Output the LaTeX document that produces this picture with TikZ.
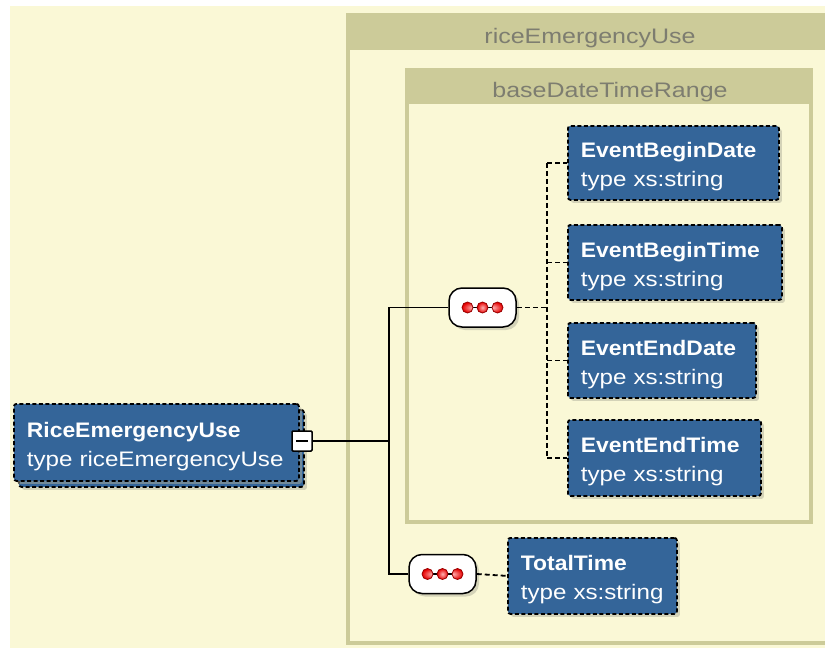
\documentclass[tikz,border=0pt]{standalone}
\usepackage{fontspec}
\setmainfont{Liberation Sans}
\newfontfamily\regf{Liberation Sans}[FakeStretch=1.15]
\newfontfamily\hdrf{Liberation Sans}[FakeStretch=1.19]
\newfontfamily\boldf{Liberation Sans}[FakeStretch=1.09]
\usetikzlibrary{shadows}
\definecolor{bgc}{RGB}{250,248,214}
\definecolor{khaki}{RGB}{204,203,153}
\definecolor{elemblue}{RGB}{52,101,153}
\definecolor{hdrtext}{RGB}{125,125,112}
\definecolor{shadowc}{RGB}{175,175,155}
\definecolor{dotred}{RGB}{230,0,0}
\tikzset{
  elem/.style={draw=black, fill=elemblue, line width=1.8pt, dash pattern=on 4pt off 2.5pt,
    rounded corners=2.5pt, text=white, align=left, inner xsep=13pt, inner ysep=0pt,
    anchor=north west, font=\fontsize{21}{29}\selectfont,
    drop shadow={shadow xshift=3pt, shadow yshift=-3pt, fill=shadowc, draw=none}},
  hdr/.style={text=hdrtext, font=\fontsize{21}{25}\selectfont\hdrf, anchor=base, inner sep=0pt},
  minusbox/.style={draw=black, fill=white, line width=1.5pt, minimum size=20pt, inner sep=0pt, rounded corners=1pt},
  seqbox/.style={draw=black, fill=white, line width=1.5pt, minimum width=67pt, minimum height=39pt,
    rounded corners=13pt, inner sep=0pt,
    drop shadow={shadow xshift=3pt, shadow yshift=-3pt, fill=shadowc, draw=none}},
  conn/.style={draw=black, line width=1.8pt},
  dconn/.style={draw=black, line width=1.8pt, dash pattern=on 5pt off 3pt},
  group/.style={draw=khaki, fill=bgc, line width=4pt},
}
\newcommand\seqdots[1]{%
  \draw[line width=1.5pt] (#1.center) ++(-15,0) -- ++(30,0);
  \foreach \dx in {-15,0,15} {\shade[inner color=red!30!white, outer color=dotred, draw=red!60!black, line width=0.8pt] (#1.center) ++(\dx,0) circle (5.5pt);}
}
\begin{document}
\begin{tikzpicture}[x=1pt,y=-1pt]
\useasboundingbox (0,0) rectangle (825,648);
\fill[white] (0,0) rectangle (825,648);
\fill[bgc] (10,6) rectangle (825,648);

% outer group
\draw[group] (348,15) rectangle (838,643);
\fill[khaki] (346,13) rectangle (838,50);
\node[hdr] (h1) at (590,43) {riceEmergencyUse};

% inner group
\draw[group, line width=3.5pt] (407,70) rectangle (811,522);
\fill[khaki] (405,68) rectangle (813,104);
\node[hdr] (h2) at (610,97) {baseDateTimeRange};

% root element
\node[elem, text width=259pt, minimum height=77pt] (rootback) at (18,409) {};
\node[elem, text width=259pt, minimum height=77pt] (root) at (13,403)
  {{\boldf\bfseries\rule{0pt}{23pt}RiceEmergencyUse}\\{\regf type riceEmergencyUse}};
\node[minusbox] (m) at (302,441) {};
\draw[line width=2pt] (m.center) ++(-6,0) -- ++(12,0);

% sequences
\node[seqbox] (s1) at (482.5,307.5) {};
\seqdots{s1}
\node[seqbox] (s2) at (442.5,574) {};
\seqdots{s2}

% child elements
\node[elem, text width=185pt, minimum height=74pt] (bd) at (567,125)
  {{\boldf\bfseries\rule{0pt}{23pt}EventBeginDate}\\{\regf type xs:string}};
\node[elem, text width=188pt, minimum height=75pt] (bt) at (567,224)
  {{\boldf\bfseries\rule{0pt}{23pt}EventBeginTime}\\{\regf type xs:string}};
\node[elem, text width=162pt, minimum height=75pt] (ed) at (567,322)
  {{\boldf\bfseries\rule{0pt}{23pt}EventEndDate}\\{\regf type xs:string}};
\node[elem, text width=167pt, minimum height=76pt] (et) at (567,419)
  {{\boldf\bfseries\rule{0pt}{23pt}EventEndTime}\\{\regf type xs:string}};
\node[elem, text width=143pt, minimum height=76pt] (tt) at (507,537)
  {{\boldf\bfseries\rule{0pt}{23pt}TotalTime}\\{\regf type xs:string}};

% connectors
\coordinate (tr) at (389,0);
\coordinate (dj) at (547,0);
\draw[conn] (m.east) -- (m.east -| tr);
\draw[conn] (s1.west) -- (s1.west -| tr) -- (s2.west -| tr) -- (s2.west);
\draw[dconn] (s1.east) -- (s1.east -| dj);
\draw[dconn] (bd.west -| dj) -- (et.west -| dj);
\foreach \n in {bd,bt,ed,et} {\draw[dconn] (\n.west -| dj) -- (\n.west);}
\draw[dconn] (s2.east) -- (tt.west);
\end{tikzpicture}
\end{document}
